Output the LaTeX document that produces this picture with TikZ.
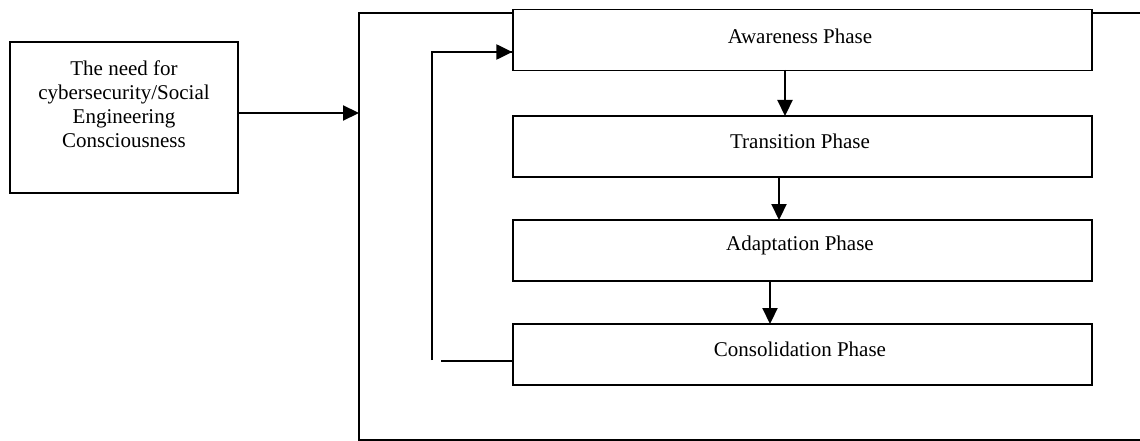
\documentclass[tikz,border=0pt]{standalone}
\usepackage{fontspec}
\setmainfont{Liberation Serif}
\usetikzlibrary{arrows.meta}
\begin{document}
\begin{tikzpicture}[x=1pt,y=-1pt,
  box/.style={draw=black,line width=1.3pt,fill=white,rectangle,inner sep=0pt},
  phasebox/.style={box,minimum width=579pt,minimum height=61pt},
  arr/.style={line width=2.2pt,-{Triangle[length=16pt,width=15pt]}},
  lbl/.style={font=\fontsize{21}{24}\selectfont,align=center,inner sep=0pt}]
\useasboundingbox (0,0) rectangle (1140,441);
% container
\draw[line width=1.3pt] (1140,13) -- (359,13) -- (359,440) -- (1140,440);
\coordinate (cin) at (359,113);
% left box
\node[box,minimum width=228pt,minimum height=151pt] (need) at (124,117.5) {};
\node[lbl] (needtxt) at (124,104) {The need for\\cybersecurity/Social\\Engineering\\Consciousness};
% phase boxes
\node[phasebox] (aw) at (802.5,40) {};
\node[phasebox] (tr) at (802.5,146.5) {};
\node[phasebox] (ad) at (802.5,250.5) {};
\node[phasebox] (co) at (802.5,354.5) {};
\node[lbl] (awt) at (800,36) {Awareness Phase};
\node[lbl] (trt) at (800,141) {Transition Phase};
\node[lbl] (adt) at (800,245) {Adaptation Phase};
\node[lbl] (cot) at (800,349) {Consolidation Phase};
% arrows
\draw[arr] (need.east |- cin) -- (cin);
\draw[arr] (785,70) -- (785,116);
\draw[arr] (779,177) -- (779,220);
\draw[arr] (770,281) -- (770,324);
% feedback loop
\coordinate (lb) at (441,361);
\coordinate (lv) at (432,360);
\coordinate (lt) at (432,52);
\draw[line width=2.2pt] (co.west |- lb) -- (lb);
\draw[line width=2.2pt] (lv) -- (lt) -- (lt -| aw.west);
\draw[arr] (lt) -- (lt -| aw.west);
\end{tikzpicture}
\end{document}
